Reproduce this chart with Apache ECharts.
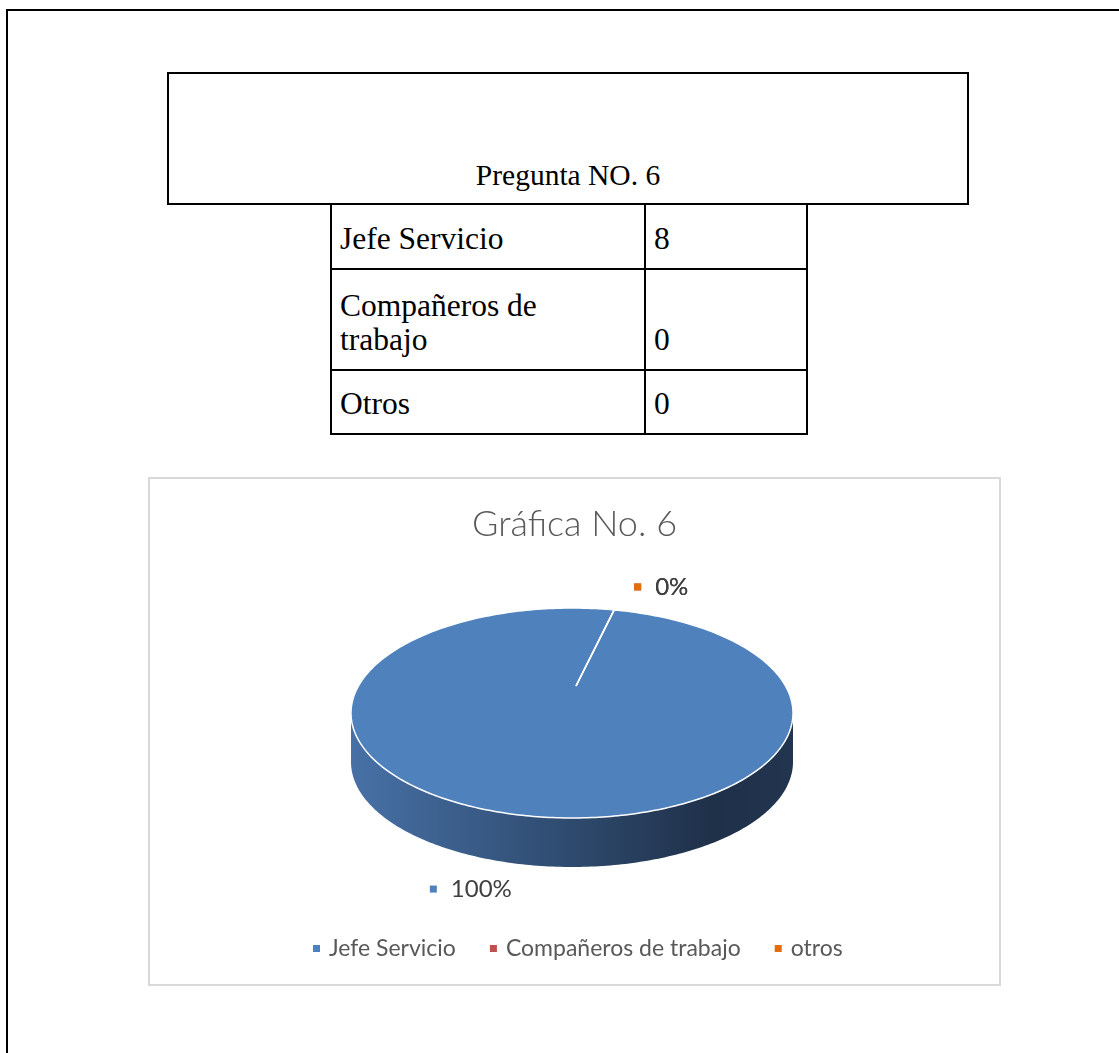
<!DOCTYPE html>
<html>
<head>
<meta charset="utf-8">
<title>Gráfica No. 6</title>
<script src="https://cdn.jsdelivr.net/npm/echarts@6/dist/echarts.min.js"></script>
<style>
  body { margin: 0; width: 1119px; height: 1053px; overflow: hidden; background: #fff; position: relative; }
  #page { position: absolute; left: 6px; top: 9px; width: 1200px; height: 1200px; border-left: 2px solid #000; border-top: 2px solid #000; }
  .cell { position: absolute; box-sizing: border-box; border: 2px solid #000; display: flex; align-items: flex-end;
          font-family: "Liberation Serif", "Times New Roman", serif; font-size: 31.5px; line-height: 34px; color: #000;
          padding: 0 0 12px 8px; }
  #qtitle { justify-content: center; padding: 0 0 11px 0; font-size: 29.5px; }
  #chartBox { position: absolute; left: 148px; top: 477px; width: 853px; height: 509px; box-sizing: border-box; border: 2px solid #d9d9d9; }
  #chart { position: absolute; left: 0; top: 0; width: 849px; height: 505px; }
</style>
</head>
<body>
<div id="page"></div>
<div id="table"></div>
<div id="chartBox"><div id="chart"></div></div>
<script>
// datos de la pregunta 6
const questionTitle = 'Pregunta NO. 6'
const tableLabels = ['Jefe Servicio', 'Compañeros de<br>trabajo', 'Otros']
const categories = ['Jefe Servicio', 'Compañeros de trabajo', 'otros']
const counts = [8, 0, 0]
const sliceColors = ['#4f81bd', '#c0504d', '#e46c0a']

// tabla (lineas de la cuadricula en px)
const colX = [330, 644, 806]
const rowY = [203, 268, 369, 433]
let html = '<div class="cell" id="qtitle" style="left:167px;top:72px;width:802px;height:133px">' + questionTitle + '</div>'
tableLabels.forEach(function (lbl, r) {
  let top = rowY[r], h = rowY[r + 1] - rowY[r] + 2
  html += '<div class="cell" style="left:' + colX[0] + 'px;top:' + top + 'px;width:' + (colX[1] - colX[0] + 2) + 'px;height:' + h + 'px">' + lbl + '</div>'
  html += '<div class="cell" style="left:' + colX[1] + 'px;top:' + top + 'px;width:' + (colX[2] - colX[1] + 2) + 'px;height:' + h + 'px">' + counts[r] + '</div>'
})
document.getElementById('table').innerHTML = html

// geometria del pastel 3D
const CX = 422, CY = 234, RX = 221, RY = 105, DEPTH = 49, START = 11
// centro visto en perspectiva (un poco mas arriba que el centro de la elipse)
const HUB_DX = 4, HUB_DY = -27
const LABEL_FONT = 24
const total = counts.reduce(function (a, b) { return a + b }, 0)

function pt (deg, dy) {
  let r = deg * Math.PI / 180
  return [CX + RX * Math.sin(r), CY - RY * Math.cos(r) + (dy || 0)]
}
function arc (a, b, dy) {
  let pts = []
  let n = Math.max(1, Math.ceil(Math.abs(b - a)))
  for (let i = 0; i <= n; i++) pts.push(pt(a + (b - a) * i / n, dy))
  return pts
}
const ctx = document.createElement('canvas').getContext('2d')
function textWidth (t) {
  ctx.font = LABEL_FONT + 'px Lato'
  return ctx.measureText(t).width
}
function sliceRange (i) {
  let before = 0
  for (let k = 0; k < i; k++) before += counts[k]
  let a = START + 360 * before / total
  return [a, a + 360 * counts[i] / total]
}

const sideGradient = new echarts.graphic.LinearGradient(0, 0, 1, 0, [
  { offset: 0, color: '#4771a6' },
  { offset: 0.5, color: '#2e4a6e' },
  { offset: 0.82, color: '#1f3049' },
  { offset: 1, color: '#22354f' }
])

function makeRender (i) {
  return function (params, api) {
    let range = sliceRange(i)
    let a = range[0], b = range[1]
    let children = []
    // cara lateral visible (frente)
    ;[[90, 270], [450, 630]].forEach(function (w) {
      let s = Math.max(a, w[0]), e = Math.min(b, w[1])
      if (e > s) {
        let pts = arc(s, e, 0).concat(arc(e, s, DEPTH))
        children.push({ type: 'polygon', shape: { points: pts }, style: { fill: sideGradient }, z2: 1 })
      }
    })
    // cara superior
    let top = [[CX + HUB_DX, CY + HUB_DY]].concat(arc(a, b, 0))
    if (b - a <= 0) top.push(pt(a))
    children.push({
      type: 'polygon', shape: { points: top },
      style: { fill: sliceColors[i], stroke: '#fff', lineWidth: 1.5 }, z2: 5
    })
    // etiqueta de datos
    let mid = (a + b) / 2
    let rad = mid * Math.PI / 180
    let anchor = pt(mid)
    if (Math.cos(rad) < 0) anchor[1] += DEPTH
    let ly = anchor[1] + (Math.cos(rad) > 0 ? -23 : 24)
    let txt = Math.round(counts[i] / total * 100) + '%'
    let boxLeft = Math.sin(rad) >= 0 ? anchor[0] + 20 : anchor[0] - 19 - (20 + textWidth(txt))
    children.push({ type: 'rect', shape: { x: boxLeft, y: ly - 3.5, width: 7, height: 7 }, style: { fill: sliceColors[i] }, z2: 10 + i })
    children.push({
      type: 'text', z2: 10 + i,
      style: { text: txt, x: boxLeft + 21, y: ly, align: 'left', verticalAlign: 'middle', fontFamily: 'Lato', fontSize: LABEL_FONT, fill: '#404040' }
    })
    return { type: 'group', children: children }
  }
}

let chart = echarts.init(document.getElementById('chart'))
chart.setOption({
  animation: false,
  title: {
    text: 'Gráfica No. 6',
    left: 'center',
    top: 22,
    textStyle: { fontFamily: 'Lato', fontWeight: 300, fontSize: 36, color: '#595959' }
  },
  legend: {
    data: categories,
    left: 158,
    top: 453,
    icon: 'rect',
    itemWidth: 7,
    itemHeight: 7,
    itemGap: 34,
    selectedMode: false,
    textStyle: { fontFamily: 'Lato', fontSize: 23, color: '#595959', padding: [0, 0, 0, 4] }
  },
  series: categories.map(function (name, i) {
    return {
      name: name,
      type: 'custom',
      coordinateSystem: 'none',
      itemStyle: { color: sliceColors[i] },
      renderItem: makeRender(i),
      data: [[counts[i]]]
    }
  })
})
</script>
</body>
</html>
